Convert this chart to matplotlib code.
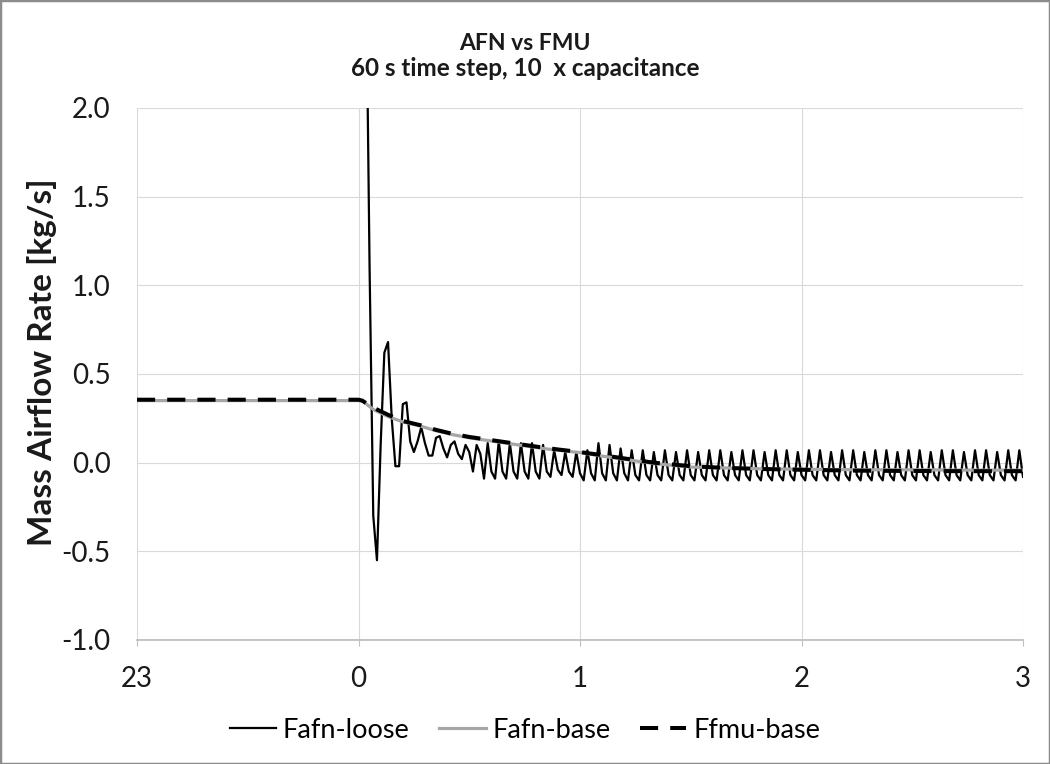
import numpy as np
import matplotlib
matplotlib.use("Agg")
import matplotlib.pyplot as plt
from matplotlib.patches import Rectangle

plt.rcParams['font.family'] = ['Lato', 'DejaVu Sans']

# x axis: minutes after midnight (60 s time step), -60 = 23:00
hour_ticks = [-1, 0, 1, 2, 3]
hour_labels = ['23', '0', '1', '2', '3']

# Fafn-loose, one value per minute from 0 to 180 (minute 1 missing, spike leaves the axis)
loose_minutes = np.arange(0, 181)
loose_values = [
    0.35, np.nan, 2.90, 1.10, -0.30, -0.55, 0.10, 0.62, 0.68, 0.25, -0.02, -0.02, 0.33, 0.34, 0.12,
    0.06, 0.12, 0.20, 0.11, 0.04, 0.04, 0.14, 0.15, 0.08, 0.03, 0.10, 0.12, 0.05, 0.02, 0.10,
    0.06, -0.05, 0.10, 0.05, -0.09, 0.11, -0.05, -0.09, 0.12, -0.05, -0.09, 0.11, -0.05, -0.09, 0.11,
    -0.05, -0.09, 0.11, -0.05, -0.09, 0.10, -0.05, -0.08, 0.07, -0.04, -0.07, 0.06, -0.05, -0.08, 0.06,
    -0.06, -0.10, 0.07, -0.06, -0.10, 0.11, -0.06, -0.10, 0.10, -0.06, -0.10, 0.08, -0.06, -0.10, 0.07,
    -0.07, -0.10, 0.07, -0.07, -0.10, 0.06, -0.07, -0.10, 0.07, -0.07, -0.10, 0.06, -0.07, -0.10, 0.07,
    -0.07, -0.10, 0.06, -0.07, -0.10, 0.07, -0.07, -0.10, 0.07, -0.07, -0.10, 0.06, -0.07, -0.10, 0.07,
    -0.07, -0.10, 0.07, -0.07, -0.10, 0.06, -0.07, -0.10, 0.07, -0.07, -0.10, 0.07, -0.07, -0.10, 0.06,
    -0.07, -0.10, 0.07, -0.07, -0.10, 0.07, -0.07, -0.10, 0.06, -0.07, -0.10, 0.07, -0.07, -0.10, 0.07,
    -0.07, -0.10, 0.06, -0.07, -0.10, 0.07, -0.07, -0.10, 0.07, -0.07, -0.10, 0.06, -0.07, -0.10, 0.07,
    -0.07, -0.10, 0.07, -0.07, -0.10, 0.06, -0.07, -0.10, 0.07, -0.07, -0.10, 0.07, -0.07, -0.10, 0.06,
    -0.07, -0.10, 0.07, -0.07, -0.10, 0.07, -0.07, -0.10, 0.06, -0.07, -0.10, 0.07, -0.07, -0.10, 0.07,
    -0.08,
]
# before midnight everything sits flat
pre_minutes = [-60, 0]
pre_values = [0.35, 0.35]

# Fafn-base
base_minutes = [-60, 0, 1, 4, 8, 12, 17, 21, 25, 30, 35, 40, 45, 50, 55, 60,
                65, 70, 75, 80, 85, 90, 100, 110, 120, 135, 150, 165, 180]
base_values = [0.35, 0.35, 0.35, 0.30, 0.26, 0.23, 0.205, 0.18, 0.16, 0.14, 0.125, 0.11,
               0.095, 0.08, 0.068, 0.057, 0.04, 0.025, 0.01, -0.005, -0.015, -0.025,
               -0.03, -0.035, -0.037, -0.04, -0.04, -0.042, -0.042]

# Ffmu-base
fmu_minutes = [-60, 0, 1, 4, 8, 12, 17, 21, 25, 30, 35, 40, 45, 50, 55, 60,
               65, 70, 75, 80, 85, 90, 100, 110, 120, 135, 150, 165, 180]
fmu_values = [0.355, 0.355, 0.35, 0.31, 0.27, 0.235, 0.21, 0.185, 0.165, 0.145, 0.13, 0.115,
              0.10, 0.085, 0.072, 0.06, 0.045, 0.03, 0.015, 0.0, -0.01, -0.02,
              -0.03, -0.036, -0.04, -0.045, -0.047, -0.048, -0.048]

fig = plt.figure(figsize=(10.5, 7.64), dpi=100)
ax = fig.add_axes([137 / 1050, 1 - 640 / 764, (1023 - 137) / 1050, (640 - 108) / 764])

x_loose = np.concatenate([np.array(pre_minutes[:-1]), loose_minutes]) / 60.0
y_loose = np.concatenate([np.array(pre_values[:-1]), np.array(loose_values)])

ax.plot(x_loose, y_loose, color='black', lw=1.6, label='Fafn-loose', zorder=3)
ax.plot(np.array(base_minutes) / 60.0, base_values, color='#a6a6a6', lw=2.3,
        label='Fafn-base', zorder=4)
ax.plot(np.array(fmu_minutes) / 60.0, fmu_values, color='black', lw=2.9,
        dashes=(4.5, 3), label='Ffmu-base', zorder=5)

ax.set_xlim(-1, 3)
ax.set_ylim(-1, 2)
ax.set_xticks(hour_ticks)
ax.set_xticklabels(hour_labels)
ax.set_yticks(np.arange(-1.0, 2.01, 0.5))
ax.set_yticklabels(['-1.0', '-0.5', '0.0', '0.5', '1.0', '1.5', '2.0'])

ax.grid(True, color='#d9d9d9', lw=0.8)
ax.set_axisbelow(True)
for side in ['top', 'right', 'left']:
    ax.spines[side].set_visible(False)
ax.spines['bottom'].set_color('#bfbfbf')
ax.spines['bottom'].set_linewidth(1.3)

ax.tick_params(axis='y', length=0, pad=19, labelsize=20, labelcolor='#1a1a1a')
ax.tick_params(axis='x', length=4, color='#bfbfbf', pad=15, labelsize=20, labelcolor='#1a1a1a')

fig.text(0.04, 1 - 362 / 764, 'Mass Airflow Rate [kg/s]', rotation=90, ha='center',
         va='center', fontsize=24, fontweight='bold', color='#1a1a1a')
fig.text(0.5, 1 - 44 / 764, 'AFN vs FMU', ha='center', va='center', fontsize=16.5,
         fontweight='bold', color='#1a1a1a')
fig.text(0.5, 1 - 68 / 764, '60 s time step, 10  x capacitance', ha='center', va='center',
         fontsize=17.5, fontweight='bold', color='#1a1a1a')

fig.legend(loc='center', bbox_to_anchor=(0.5, 1 - 730 / 764), ncol=3, frameon=False,
           fontsize=19.5, handlelength=1.7, handletextpad=0.25, columnspacing=1.1)

fig.patches.append(Rectangle((0, 0), 1, 1, transform=fig.transFigure, fill=False,
                             edgecolor='#8c8c8c', lw=2.5))

fig.savefig('out.png', dpi=100)
